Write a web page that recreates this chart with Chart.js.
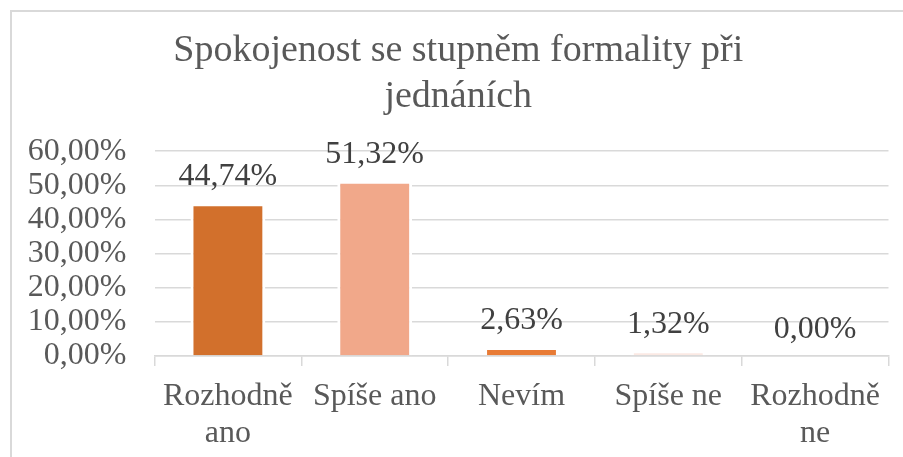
<!DOCTYPE html>
<html>
<head>
<meta charset="utf-8">
<script src="https://cdn.jsdelivr.net/npm/chart.js@4/dist/chart.umd.min.js"></script>
<style>
  html, body { margin: 0; padding: 0; background: #fff; }
  #wrap { position: relative; width: 903px; height: 457px; overflow: hidden; }
  #frame { position: absolute; left: 10px; top: 10px; width: 1000px; height: 1000px;
           border-top: 2px solid #d9d9d9; border-left: 2px solid #d9d9d9; pointer-events: none; }
  canvas { position: absolute; left: 0; top: 0; }
</style>
</head>
<body>
<div id="wrap">
  <canvas id="c" width="903" height="457"></canvas>
  <div id="frame"></div>
</div>
<script>
const titleLines = ['Spokojenost se stupněm formality při', 'jednáních'];
const categories = [['Rozhodně', 'ano'], 'Spíše ano', 'Nevím', 'Spíše ne', ['Rozhodně', 'ne']];
const values = [44.74, 51.32, 2.63, 1.32, 0.00];
const barColors = ['#D2702C', '#F1A88A', '#E87B35', '#FBE9E3', '#C55A11'];
const yTicks = [0, 10, 20, 30, 40, 50, 60];

const fmt = v => v.toFixed(2).replace('.', ',') + '%';
const serif = '"Liberation Serif", "Times New Roman", serif';

const dataLabels = {
  id: 'dataLabels',
  afterDatasetsDraw(chart) {
    const ctx = chart.ctx;
    const meta = chart.getDatasetMeta(0);
    ctx.save();
    ctx.font = '32px ' + serif;
    ctx.fillStyle = '#404040';
    ctx.textAlign = 'center';
    ctx.textBaseline = 'alphabetic';
    meta.data.forEach((bar, i) => {
      ctx.fillText(fmt(values[i]), bar.x, bar.y - 18);
    });
    ctx.restore();
  }
};

new Chart(document.getElementById('c'), {
  type: 'bar',
  data: {
    labels: categories,
    datasets: [{
      data: values,
      backgroundColor: barColors,
      borderColor: '#ffffff',
      borderWidth: 3,
      borderSkipped: 'start',
      categoryPercentage: 1,
      barPercentage: 0.51
    }]
  },
  options: {
    responsive: false,
    animation: false,
    devicePixelRatio: 1,
    layout: { padding: { left: 28, right: 14.5, top: 0, bottom: 0 } },
    plugins: {
      legend: { display: false },
      tooltip: { enabled: false },
      title: {
        display: true,
        text: titleLines,
        color: '#595959',
        font: { family: serif, size: 38, weight: 'normal', lineHeight: 1.2 },
        padding: { top: 28.7, bottom: 31.3 }
      }
    },
    scales: {
      x: {
        grid: { display: true, drawOnChartArea: false, drawTicks: true, tickLength: 10, color: '#d9d9d9', lineWidth: 1.5 },
        border: { display: true, color: '#d9d9d9', width: 1.5 },
        ticks: { color: '#595959', font: { family: serif, size: 32, lineHeight: 1.15 }, padding: 12, maxRotation: 0, autoSkip: false },
        afterFit(scale) { scale.height = 101; }
      },
      y: {
        min: 0, max: 60,
        afterBuildTicks(scale) { scale.ticks = yTicks.map(v => ({ value: v })); },
        grid: { color: '#d9d9d9', lineWidth: 1.5, drawTicks: false },
        border: { display: false },
        ticks: { color: '#595959', font: { family: serif, size: 32 }, padding: 28, autoSkip: false, callback: v => fmt(v) },
        afterFit(scale) { scale.width = 126.5; }
      }
    }
  },
  plugins: [dataLabels]
});
</script>
</body>
</html>
